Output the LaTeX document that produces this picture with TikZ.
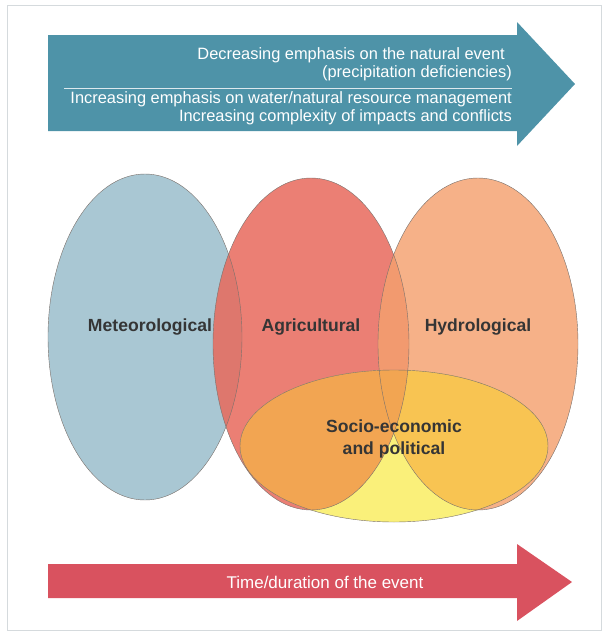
\documentclass[tikz,border=0pt]{standalone}
\usepackage{fontspec}
\setmainfont{Liberation Sans}
\usepackage{tikz}
\definecolor{arrowteal}{HTML}{4E93A8}
\definecolor{arrowred}{HTML}{D9525F}
\definecolor{metblue}{HTML}{A9C7D3}
\definecolor{agrired}{HTML}{E8695C}
\definecolor{hydroorange}{HTML}{F4A06E}
\definecolor{socioyellow}{HTML}{FAF07A}
\definecolor{socioagri}{HTML}{F2A552}
\definecolor{sociohydro}{HTML}{F8C452}
\definecolor{labelgray}{HTML}{353535}
\definecolor{framegray}{HTML}{D5DADD}
\definecolor{rimgray}{HTML}{7A716C}
\tikzset{
  bigarrow/.style={draw=none},
  headtext/.style={text=white, font=\fontsize{14}{15.5}\selectfont, align=right, inner sep=0pt},
  rim/.style={draw=rimgray, line width=0.35pt},
  blobtext/.style={text=labelgray, font=\bfseries\fontsize{15}{19}\selectfont, align=center, inner sep=0pt}
}
\newcommand{\metshape}{(145,337) ellipse [x radius=97, y radius=163]}
\newcommand{\agrishape}{(311,344) ellipse [x radius=98, y radius=166]}
\newcommand{\hydroshape}{(478,344) ellipse [x radius=100, y radius=166]}
\newcommand{\socioshape}{(394,446) ellipse [x radius=154, y radius=76]}

\begin{document}
\begin{tikzpicture}[x=0.03cm, y=-0.03cm]
  \useasboundingbox (0,0) rectangle (609,634);
  \draw[framegray, line width=0.4pt] (7,5) rectangle (601,630);

  % top arrow
  \fill[arrowteal, bigarrow] (48,35) -- (517,35) -- (517,22) -- (575,84)
    -- (517,146) -- (517,131) -- (48,131) -- cycle;
  \node[headtext, anchor=east] (natural) at (512,64) {Decreasing emphasis on the natural event\kern6pt\\(precipitation deficiencies)};
  \coordinate (sepleft) at (64,88);
  \coordinate (sepright) at (512,88);
  \draw[white!80!arrowteal, line width=0.5pt] (sepleft) -- (sepright);
  \node[headtext, anchor=east] (management) at (512,108) {Increasing emphasis on water/natural resource management\\Increasing complexity of impacts and conflicts};

  % drought types
  \fill[metblue] \metshape;
  \fill[agrired, opacity=0.85] \agrishape;
  \fill[hydroorange, opacity=0.82] \hydroshape;
  \fill[socioyellow] \socioshape;
  \begin{scope}
    \clip \socioshape;
    \fill[sociohydro] \hydroshape;
    \fill[socioagri] \agrishape;
  \end{scope}
  \draw[rim] \metshape;
  \draw[rim] \agrishape;
  \draw[rim] \hydroshape;
  \draw[rim] \socioshape;

  \node[blobtext] (metlabel) at (150,327) {Meteorological};
  \node[blobtext] (agrilabel) at (311,327) {Agricultural};
  \node[blobtext] (hydrolabel) at (478,327) {Hydrological};
  \node[blobtext] (sociolabel) at (394,439) {Socio-economic\\and political};

  % bottom arrow
  \fill[arrowred, bigarrow] (48,564) -- (517,564) -- (517,544) -- (572,582)
    -- (517,621) -- (517,598) -- (48,598) -- cycle;
  \node[headtext, font=\fontsize{14.5}{16}\selectfont, anchor=center] (time) at (325,582) {Time/duration of the event};
\end{tikzpicture}
\end{document}
